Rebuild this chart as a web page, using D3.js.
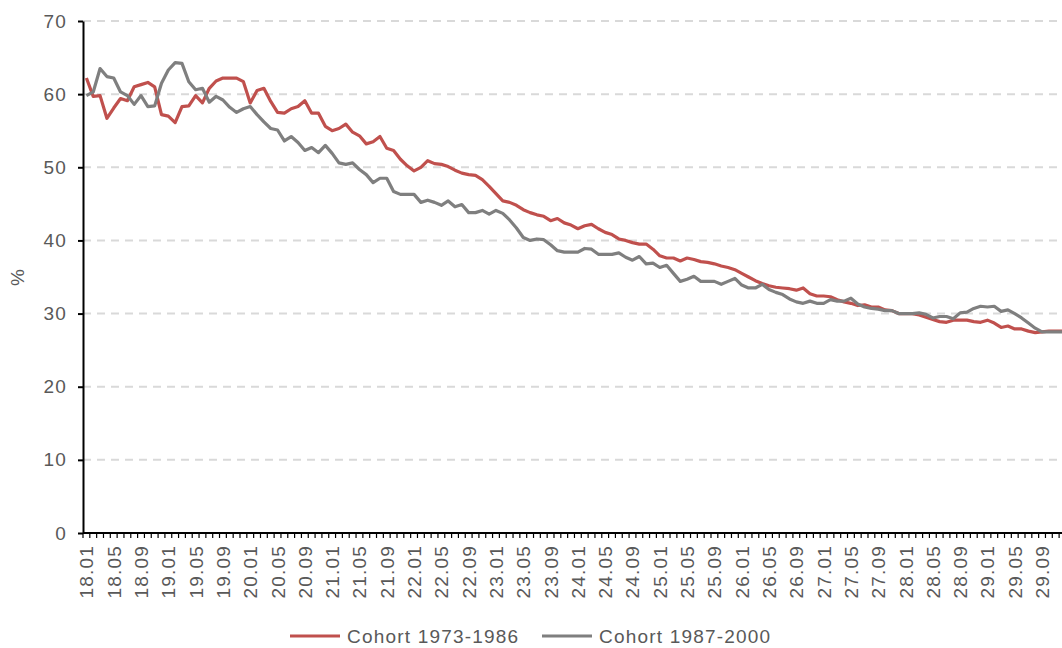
<!doctype html>
<html>
<head>
    <meta charset="UTF-8">
    <title>Cohorts</title>
    <script src="https://d3js.org/d3.v7.min.js" charset="utf-8"></script>
    <style>
        body { margin: 0; background: #fff; }
        * { font-family: "Liberation Sans", Arial, sans-serif; }
        text { letter-spacing: 1.2px; }
    </style>
</head>
<body>
<script>
    // month labels 18.01 .. 29.12
    var months = [];
    for (var yr = 18; yr <= 29; yr++) {
        for (var m = 1; m <= 12; m++) {
            months.push(yr + "." + (m < 10 ? "0" + m : m));
        }
    }
    var yTicks = [0, 10, 20, 30, 40, 50, 60, 70];
    var seriesNames = ["Cohort 1973-1986", "Cohort 1987-2000"];

    var cohort7386 = [
        62.2, 59.7, 59.8, 56.7, 58.1, 59.4, 59.1, 61.0, 61.3, 61.6, 61.0, 57.2,
        57.0, 56.1, 58.3, 58.4, 59.8, 58.8, 60.8, 61.8, 62.2, 62.2, 62.2, 61.7,
        58.8, 60.5, 60.8, 59.0, 57.5, 57.4, 58.0, 58.3, 59.1, 57.4, 57.4, 55.6,
        55.0, 55.3, 55.9, 54.8, 54.3, 53.2, 53.5, 54.2, 52.6, 52.3, 51.1, 50.2,
        49.5, 50.0, 50.9, 50.5, 50.4, 50.1, 49.6, 49.2, 49.0, 48.9, 48.3, 47.4,
        46.4, 45.4, 45.2, 44.8, 44.2, 43.8, 43.5, 43.3, 42.7, 43.0, 42.4, 42.1,
        41.6, 42.0, 42.2, 41.6, 41.1, 40.8, 40.2, 40.0, 39.7, 39.5, 39.5, 38.8,
        37.9, 37.6, 37.6, 37.2, 37.6, 37.4, 37.1, 37.0, 36.8, 36.5, 36.3, 36.0,
        35.5, 35.0, 34.5, 34.1, 33.8, 33.6, 33.5, 33.4, 33.2, 33.5, 32.7, 32.4,
        32.4, 32.3, 31.9, 31.6, 31.4, 31.1, 31.2, 30.9, 30.9, 30.5, 30.4, 30.0,
        30.0, 30.0, 29.8, 29.5, 29.2, 28.9, 28.8, 29.1, 29.1, 29.1, 28.9, 28.8,
        29.1, 28.7, 28.1, 28.3, 27.9, 27.9, 27.6, 27.4, 27.5, 27.6, 27.6, 27.6
    ];
    var cohort8700 = [
        59.8, 60.3, 63.5, 62.4, 62.2, 60.3, 59.8, 58.6, 59.8, 58.3, 58.4, 61.5,
        63.3, 64.3, 64.2, 61.7, 60.6, 60.8, 58.9, 59.7, 59.2, 58.2, 57.5, 58.0,
        58.3, 57.2, 56.2, 55.3, 55.1, 53.6, 54.2, 53.4, 52.3, 52.7, 52.0, 53.0,
        51.9, 50.6, 50.4, 50.6, 49.7, 49.0, 47.9, 48.5, 48.5, 46.7, 46.3, 46.3,
        46.3, 45.2, 45.5, 45.2, 44.8, 45.4, 44.6, 44.9, 43.8, 43.8, 44.1, 43.6,
        44.1, 43.7, 42.8, 41.7, 40.4, 40.0, 40.2, 40.1, 39.4, 38.6, 38.4, 38.4,
        38.4, 38.9, 38.8, 38.1, 38.1, 38.1, 38.3, 37.7, 37.3, 37.8, 36.8, 36.9,
        36.3, 36.6, 35.5, 34.4, 34.7, 35.1, 34.4, 34.4, 34.4, 34.0, 34.4, 34.8,
        33.9, 33.5, 33.5, 34.0, 33.3, 32.9, 32.6, 32.0, 31.6, 31.4, 31.7, 31.4,
        31.4, 31.9, 31.7, 31.7, 32.1, 31.3, 30.9, 30.7, 30.6, 30.4, 30.4, 30.0,
        30.0, 30.0, 30.1, 29.9, 29.4, 29.6, 29.6, 29.3, 30.1, 30.2, 30.7, 31.0,
        30.9, 31.0, 30.3, 30.5, 30.0, 29.4, 28.7, 28.0, 27.5, 27.5, 27.5, 27.5
    ];
    var colors = ["#c0504d", "#7f7f7f"];

    var chartW = 1062, chartH = 648;
    var plotLeft = 83, plotTop = 21, plotBottom = 533;
    var step = 6.826;
    var fontSize = 19;

    var svg = d3.select("body").append("svg")
        .attr("width", chartW)
        .attr("height", chartH);

    var x = d3.scaleBand()
        .domain(months)
        .range([plotLeft, plotLeft + months.length * step]);
    var y = d3.scaleLinear()
        .domain([0, 70])
        .range([plotBottom, plotTop]);

    // dashed gridlines
    svg.append("g").selectAll("line")
        .data(yTicks.filter(function(d) { return d > 0; }))
        .enter().append("line")
            .attr("x1", plotLeft)
            .attr("x2", chartW)
            .attr("y1", function(d) { return y(d); })
            .attr("y2", function(d) { return y(d); })
            .attr("stroke", "#d9d9d9")
            .attr("stroke-width", 2)
            .attr("stroke-dasharray", "8,6");

    // y axis
    var yAxis = svg.append("g")
        .attr("transform", "translate(" + plotLeft + ",0)")
        .call(d3.axisLeft(y).tickValues(yTicks).tickSize(5).tickSizeOuter(0));
    yAxis.select(".domain").attr("stroke", "#000").attr("stroke-width", 2);
    yAxis.selectAll(".tick line").attr("stroke", "#000").attr("stroke-width", 2);
    yAxis.selectAll(".tick text")
        .attr("x", -16)
        .attr("fill", "#595959")
        .attr("font-size", fontSize)
        .attr("font-family", "Liberation Sans, Arial, sans-serif");

    svg.append("text")
        .attr("transform", "translate(24," + y(35) + ") rotate(-90)")
        .attr("text-anchor", "middle")
        .attr("fill", "#595959")
        .attr("font-size", fontSize)
        .text("%");

    // x axis: small tick between each month, label every 4th
    var xAxis = svg.append("g")
        .attr("transform", "translate(0," + plotBottom + ")");
    xAxis.selectAll(".mtick")
        .data(months)
        .enter().append("line")
            .attr("class", "mtick")
            .attr("x1", function(d) { return x(d); })
            .attr("x2", function(d) { return x(d); })
            .attr("y1", 0)
            .attr("y2", 5)
            .attr("stroke", "#000")
            .attr("stroke-width", 1.2);
    xAxis.append("line")
        .attr("x1", plotLeft)
        .attr("x2", chartW)
        .attr("stroke", "#000")
        .attr("stroke-width", 2);
    xAxis.selectAll(".mlabel")
        .data(months.filter(function(d, i) { return i % 4 == 0; }))
        .enter().append("text")
            .attr("class", "mlabel")
            .attr("transform", function(d) {
                return "translate(" + (x(d) + x.bandwidth() / 2 + 7) + ",12) rotate(-90)";
            })
            .attr("text-anchor", "end")
            .attr("fill", "#595959")
            .attr("font-size", fontSize)
            .text(function(d) { return d; });

    // lines
    var line = d3.line()
        .x(function(d, i) { return x(months[i]) + x.bandwidth() / 2; })
        .y(function(d) { return y(d); });

    [cohort7386, cohort8700].forEach(function(s, k) {
        svg.append("path")
            .datum(s)
            .attr("fill", "none")
            .attr("stroke", colors[k])
            .attr("stroke-width", 3.2)
            .attr("stroke-linejoin", "round")
            .attr("d", line);
    });

    // legend
    var legendX = [290, 542];
    var legend = svg.append("g").selectAll("g")
        .data(seriesNames)
        .enter().append("g")
            .attr("transform", function(d, i) { return "translate(" + legendX[i] + ",636)"; });
    legend.append("line")
        .attr("x1", 0)
        .attr("x2", 50)
        .attr("stroke", function(d, i) { return colors[i]; })
        .attr("stroke-width", 3.2);
    legend.append("text")
        .attr("x", 57)
        .attr("dy", "0.35em")
        .attr("fill", "#595959")
        .attr("font-size", fontSize)
        .text(function(d) { return d; });
</script>
</body>
</html>
